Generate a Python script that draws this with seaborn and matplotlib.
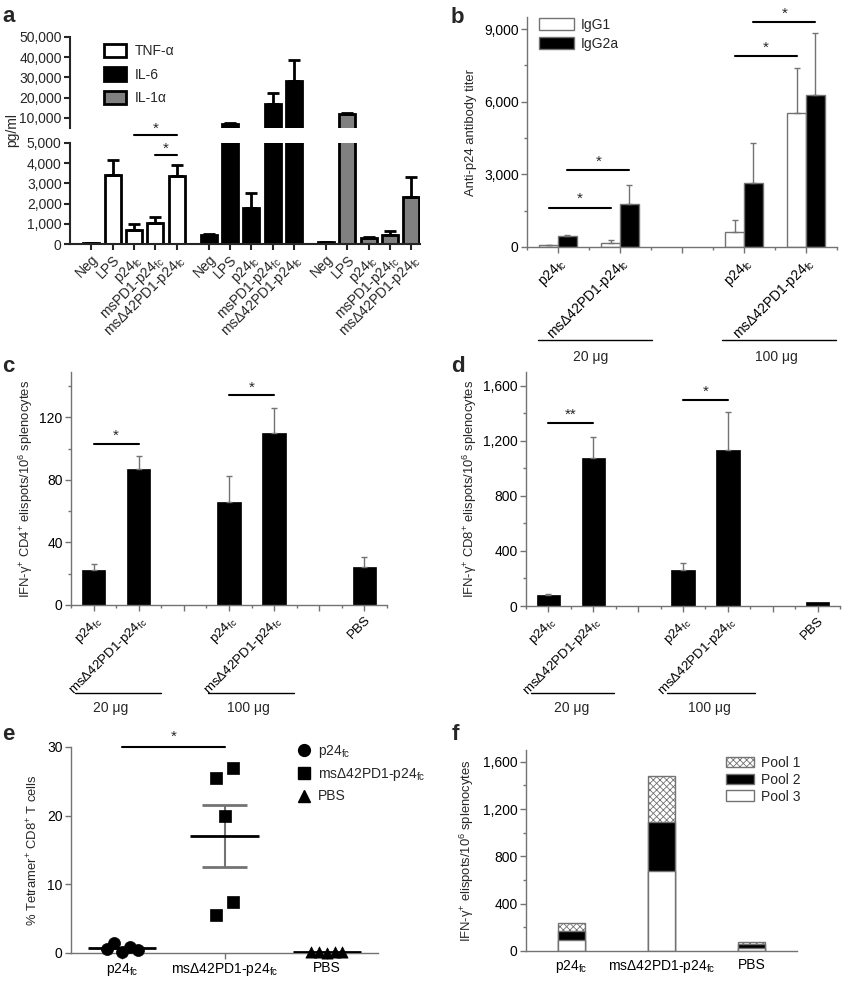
import numpy as np
import pandas as pd
import matplotlib
matplotlib.use("Agg")
import matplotlib.pyplot as plt
import seaborn as sns
from matplotlib.patches import Patch
from matplotlib.lines import Line2D
from matplotlib.ticker import FuncFormatter, MultipleLocator

sns.set_style("ticks")
plt.rcParams['font.family'] = ['Liberation Sans', 'DejaVu Sans']
plt.rcParams['mathtext.fontset'] = 'custom'
plt.rcParams['mathtext.rm'] = 'Liberation Sans'
plt.rcParams['mathtext.it'] = 'Liberation Sans:italic'
plt.rcParams['mathtext.bf'] = 'Liberation Sans:bold'
plt.rcParams['hatch.linewidth'] = 0.6

W, H = 843, 982
FS = 10
YFS = 9.4
GREY = '0.45'

fc = r"$_\mathregular{fc}$"
sup = lambda s: r"$^\mathregular{" + s + "}$"
P24 = "p24" + fc
MS42 = "msΔ42PD1-p24" + fc

# ---- panel a: cytokines (pg/ml), bar value and error ----
a_cyto = ["TNF-α", "IL-6", "IL-1α"]
a_treat = ["Neg", "LPS", P24, "msPD1-p24" + fc, MS42]
a_tnf = [40, 3420, 690, 1040, 3370]
a_tnf_err = [20, 740, 300, 300, 540]
a_il6 = [440, 7000, 1780, 16900, 28300]
a_il6_err = [40, 500, 740, 5500, 10300]
a_il1 = [80, 12000, 280, 450, 2320]
a_il1_err = [20, 500, 60, 180, 1000]

# ---- panel b: antibody titers ----
b_groups = [P24, MS42, P24, MS42]
b_igg1 = [70, 180, 610, 5540]
b_igg1_err = [30, 95, 490, 1870]
b_igg2a = [470, 1790, 2660, 6280]
b_igg2a_err = [30, 760, 1640, 2550]
b_sig = [1625, 3170, 7875, 9290]

# ---- panel c / d: ELISPOT ----
cd_labels = [P24, MS42, P24, MS42, "PBS"]
c_vals = [22.4, 86.8, 65.7, 109.8, 24.5]
c_err = [3.8, 8.2, 16.8, 16.2, 6.0]
c_sig = [103, 134]
d_vals = [77, 1077, 258, 1133, 31]
d_err = [12, 152, 58, 277, 0]
d_sig = [1328, 1495]

# ---- panel e: tetramer ----
e_groups = [P24, MS42, "PBS"]
e_p24 = [0.58, 1.46, 0.10, 0.88, 0.39]
e_ms = [25.5, 26.9, 20.0, 5.5, 7.45]
e_pbs = [0.10, 0.12, 0.05, 0.10, 0.12]

# ---- panel f: peptide pools ----
f_groups = [P24, MS42, "PBS"]
f_pool3 = [95, 680, 25]
f_pool2 = [70, 410, 30]
f_pool1 = [75, 390, 25]

fig = plt.figure(figsize=(W / 100, H / 100), dpi=100)


def px_axes(l, t, r, b):
    return fig.add_axes([l / W, 1 - b / H, (r - l) / W, (b - t) / H])


def fig_line(x0, x1, y):
    fig.add_artist(Line2D([x0 / W, x1 / W], [1 - y / H, 1 - y / H],
                          transform=fig.transFigure, color='black', lw=1))


def fig_text(x, y, s, **kw):
    fig.text(x / W, 1 - y / H, s, **kw)


def grey_axes(ax):
    for s in ['top', 'right']:
        ax.spines[s].set_visible(False)
    for s in ['left', 'bottom']:
        ax.spines[s].set_color(GREY)
        ax.spines[s].set_linewidth(1)
    ax.tick_params(colors=GREY, labelcolor='black', labelsize=FS, length=4, width=1, pad=2)
    ax.tick_params(which='minor', colors=GREY, length=2.5, width=1)
    ax.set_xlabel('')


def sig(ax, x0, x1, y, star='*', dy=0):
    ax.plot([x0, x1], [y, y], color='black', lw=1.5, clip_on=False)
    ax.text((x0 + x1) / 2, y + dy, star, ha='center', va='bottom', fontsize=11, clip_on=False)


thousands = FuncFormatter(lambda v, p: f"{v:,.0f}")

# ================= panel a =================
a_pos = [i + g * 5.5 for g in range(3) for i in range(5)]
df_a = pd.DataFrame({
    'pos': a_pos,
    'val': a_tnf + a_il6 + a_il1,
    'err': a_tnf_err + a_il6_err + a_il1_err,
    'cyto': [c for c in a_cyto for _ in range(5)],
})
a_pal = {"TNF-α": 'white', "IL-6": 'black', "IL-1α": '0.5'}
ax_lo = px_axes(70, 143, 420, 244)
ax_hi = px_axes(70, 37, 420, 128)
ax_hi.patch.set_visible(False)
ax_lo.set_zorder(3)
for ax in (ax_lo, ax_hi):
    sns.barplot(data=df_a, x='pos', y='val', hue='cyto', native_scale=True, dodge=False,
                palette=a_pal, edgecolor='black', linewidth=2, width=0.75, legend=False, ax=ax)
    bars = sorted(ax.patches, key=lambda p: p.get_x())
    for p, v, e in zip(bars, df_a['val'], df_a['err']):
        cx = p.get_x() + p.get_width() / 2
        ax.errorbar(cx, v, yerr=[[0], [e]], color='black', lw=2, capsize=4, capthick=2, zorder=1)
    ax.set_xlim(-1.0, 15.4)
    ax.set_xlabel('')
    ax.set_ylabel('')
    for s in ['top', 'right']:
        ax.spines[s].set_visible(False)
    for s in ['left', 'bottom']:
        ax.spines[s].set_linewidth(1.5)
    ax.tick_params(labelsize=FS, width=1.5, length=4, pad=2)
    ax.yaxis.set_major_formatter(thousands)
ax_lo.patch.set_visible(False)
ax_lo.set_ylim(0, 5000)
ax_lo.set_yticks(range(0, 5001, 1000))
ax_lo.set_xticks(a_pos)
ax_lo.set_xticklabels(a_treat * 3, rotation=45, ha='right', rotation_mode='anchor')
ax_hi.set_ylim(5000, 50000)
ax_hi.set_yticks(range(10000, 50001, 10000))
ax_hi.spines['bottom'].set_visible(False)
ax_hi.set_xticks([])
sig(ax_lo, 2, 4, 5396, dy=-60)
sig(ax_lo, 3, 4, 4406, dy=-60)
fig_text(12, 130, "pg/ml", rotation=90, ha='center', va='center', fontsize=FS)
ax_hi.legend(handles=[Patch(facecolor=a_pal[c], edgecolor='black', lw=2, label=c) for c in a_cyto],
             loc='upper left', bbox_to_anchor=(104 / W, 1 - 44 / H), bbox_transform=fig.transFigure,
             frameon=False, fontsize=FS, handlelength=1.6, handleheight=1.1, labelspacing=0.65,
             borderaxespad=0, borderpad=0, handletextpad=0.6)

# ================= panel b =================
b_pos = [0, 1, 3, 4]
df_b = pd.DataFrame({
    'pos': b_pos * 2,
    'val': b_igg1 + b_igg2a,
    'ab': ['IgG1'] * 4 + ['IgG2a'] * 4,
})
b_pal = {'IgG1': 'white', 'IgG2a': 'black'}
ax_b = px_axes(527, 17, 837, 247)
sns.barplot(data=df_b, x='pos', y='val', hue='ab', native_scale=True, palette=b_pal,
            edgecolor=GREY, linewidth=1, width=0.6, legend=False, ax=ax_b)
centers = []
for cont, errs, vals in zip(ax_b.containers, [b_igg1_err, b_igg2a_err], [b_igg1, b_igg2a]):
    xs = [p.get_x() + p.get_width() / 2 for p in cont]
    centers.append(xs)
    ax_b.errorbar(xs, vals, yerr=[np.zeros(4), errs], fmt='none', ecolor=GREY, lw=1,
                  capsize=2, capthick=1, zorder=1)
grey_axes(ax_b)
ax_b.set_xlim(-0.5, 4.5)
ax_b.set_ylim(0, 9500)
ax_b.set_yticks([0, 3000, 6000, 9000])
ax_b.yaxis.set_minor_locator(MultipleLocator(1500))
ax_b.yaxis.set_major_formatter(thousands)
ax_b.set_xticks(range(5))
ax_b.set_xticklabels([P24, MS42, '', P24, MS42], rotation=45, ha='right', rotation_mode='anchor')
ax_b.xaxis.set_minor_locator(MultipleLocator(0.5))
ax_b.set_ylabel("Anti-p24 antibody titer", fontsize=YFS, labelpad=5)
sig(ax_b, centers[0][0], centers[0][1], b_sig[0], dy=60)
sig(ax_b, centers[1][0], centers[1][1], b_sig[1], dy=60)
sig(ax_b, centers[0][2], centers[0][3], b_sig[2], dy=60)
sig(ax_b, centers[1][2], centers[1][3], b_sig[3], dy=60)
ax_b.legend(handles=[Patch(facecolor=b_pal[k], edgecolor=GREY, lw=1, label=k) for k in b_pal],
            loc='upper left', bbox_to_anchor=(539 / W, 1 - 18 / H), bbox_transform=fig.transFigure,
            frameon=False, fontsize=FS, handlelength=2.5, handleheight=0.9, labelspacing=0.35,
            borderaxespad=0, borderpad=0, handletextpad=0.5)
fig_line(538, 652, 340)
fig_line(722, 836, 340)
fig_text(591, 350, "20 μg", ha='center', va='top', fontsize=FS)
fig_text(776, 350, "100 μg", ha='center', va='top', fontsize=FS)


# ================= panels c, d =================
def elispot(ax, vals, errs, sigs, ylim, major, minor, ylabel, stars):
    pos = [0, 1, 3, 4, 6]
    sns.barplot(x=pos, y=vals, native_scale=True, color='black', edgecolor='black',
                linewidth=0.5, width=0.52, ax=ax)
    xs = sorted(p.get_x() + p.get_width() / 2 for p in ax.patches)
    e = np.array(errs, dtype=float)
    mask = e > 0
    ax.errorbar(np.array(xs)[mask], np.array(vals)[mask], yerr=[np.zeros(mask.sum()), e[mask]],
                fmt='none', ecolor=GREY, lw=1, capsize=2, capthick=1, zorder=1)
    grey_axes(ax)
    ax.set_xlim(-0.5, 6.5)
    ax.set_ylim(0, ylim)
    ax.yaxis.set_major_locator(MultipleLocator(major))
    ax.yaxis.set_minor_locator(MultipleLocator(minor))
    ax.yaxis.set_major_formatter(thousands)
    ax.set_xticks(range(7))
    ax.set_xticklabels([cd_labels[0], cd_labels[1], '', cd_labels[2], cd_labels[3], '', cd_labels[4]],
                       rotation=45, ha='right', rotation_mode='anchor', fontsize=9.6)
    ax.xaxis.set_minor_locator(MultipleLocator(0.5))
    ax.set_ylabel(ylabel, fontsize=YFS, labelpad=3)
    sig(ax, xs[0], xs[1], sigs[0], star=stars[0], dy=ylim * 0.005)
    sig(ax, xs[2], xs[3], sigs[1], star=stars[1], dy=ylim * 0.005)


ax_c = px_axes(71, 372, 387, 605)
elispot(ax_c, c_vals, c_err, c_sig, 149, 40, 20,
        "IFN-γ" + sup("+") + " CD4" + sup("+") + " elispots/10" + sup("6") + " splenocytes", ['*', '*'])
ax_d = px_axes(526, 372, 840, 606)
elispot(ax_d, d_vals, d_err, d_sig, 1700, 400, 200,
        "IFN-γ" + sup("+") + " CD8" + sup("+") + " elispots/10" + sup("6") + " splenocytes", ['**', '*'])
fig_line(75, 161, 693)
fig_line(208, 294, 693)
fig_text(111, 701, "20 μg", ha='center', va='top', fontsize=FS)
fig_text(248, 701, "100 μg", ha='center', va='top', fontsize=FS)
fig_line(531, 614, 693)
fig_line(667, 755, 693)
fig_text(572, 701, "20 μg", ha='center', va='top', fontsize=FS)
fig_text(709, 701, "100 μg", ha='center', va='top', fontsize=FS)

# ================= panel e =================
ax_e = px_axes(71, 747, 378, 953)
spread = np.linspace(-0.15, 0.15, 5)
pair = np.array([-0.08, 0.08, 0.0, -0.08, 0.08])
e_sets = [(e_p24, 'o', spread, 75), (e_ms, 's', pair, 65), (e_pbs, '^', spread, 65)]
for i, (vals, mk, off, sz) in enumerate(e_sets):
    sns.scatterplot(x=i + off, y=vals, marker=mk, color='black', s=sz, edgecolor='black',
                    linewidth=0.5, ax=ax_e, clip_on=False, zorder=3)
    m = np.mean(vals)
    sem = np.std(vals, ddof=1) / np.sqrt(len(vals))
    ax_e.hlines(m, i - 0.335, i + 0.335, color='black', lw=2, zorder=4)
    if sem > 1:
        ax_e.vlines(i, m - sem, m + sem, color=GREY, lw=1.5, zorder=2)
        ax_e.hlines([m - sem, m + sem], i - 0.22, i + 0.22, color=GREY, lw=2, zorder=2)
grey_axes(ax_e)
ax_e.set_xlim(-0.5, 2.5)
ax_e.set_ylim(0, 30)
ax_e.set_yticks([0, 10, 20, 30])
ax_e.set_xticks(range(3))
ax_e.set_xticklabels(e_groups)
ax_e.set_ylabel("% Tetramer" + sup("+") + " CD8" + sup("+") + " T cells", fontsize=YFS, labelpad=5)
sig(ax_e, 0, 1, 30, dy=0.4)
ax_e.legend(handles=[Line2D([], [], marker=mk, color='black', ls='', markersize=8.5, label=g)
                     for g, mk in zip(e_groups, ['o', 's', '^'])],
            loc='upper left', bbox_to_anchor=(297 / W, 1 - 743 / H), bbox_transform=fig.transFigure,
            frameon=False, fontsize=FS, handlelength=1.0, labelspacing=0.45,
            borderaxespad=0, borderpad=0, handletextpad=0.5)

# ================= panel f =================
ax_f = px_axes(526, 750, 797, 951)
tops = np.cumsum([f_pool3, f_pool2, f_pool1], axis=0)
sns.barplot(x=f_groups, y=tops[2], order=f_groups, color='white', edgecolor=GREY, hatch='xxxxx',
            linewidth=1, width=0.3, ax=ax_f)
sns.barplot(x=f_groups, y=tops[1], order=f_groups, color='black', edgecolor=GREY,
            linewidth=1, width=0.3, ax=ax_f)
sns.barplot(x=f_groups, y=tops[0], order=f_groups, color='white', edgecolor=GREY,
            linewidth=1, width=0.3, ax=ax_f)
grey_axes(ax_f)
ax_f.set_xlim(-0.5, 2.5)
ax_f.set_ylim(0, 1700)
ax_f.yaxis.set_major_locator(MultipleLocator(400))
ax_f.yaxis.set_minor_locator(MultipleLocator(200))
ax_f.yaxis.set_major_formatter(thousands)
ax_f.tick_params(axis='x', length=0, pad=5)
ax_f.set_ylabel("IFN-γ" + sup("+") + " elispots/10" + sup("6") + " splenocytes", fontsize=YFS, labelpad=5)
ax_f.legend(handles=[Patch(facecolor='white', edgecolor=GREY, hatch='xxxxx', label='Pool 1'),
                     Patch(facecolor='black', edgecolor=GREY, label='Pool 2'),
                     Patch(facecolor='white', edgecolor=GREY, label='Pool 3')],
            loc='upper left', bbox_to_anchor=(726 / W, 1 - 756 / H), bbox_transform=fig.transFigure,
            frameon=False, fontsize=FS, handlelength=2.0, handleheight=0.8, labelspacing=0.2,
            borderaxespad=0, borderpad=0, handletextpad=0.5)

# panel letters
for lab, x, y in [('a', 2, 22), ('b', 451, 23), ('c', 2, 372), ('d', 451, 372), ('e', 2, 740), ('f', 452, 740)]:
    fig_text(x, y, lab, fontsize=16, fontweight='bold', va='baseline')

fig.savefig("out.png", dpi=100)
